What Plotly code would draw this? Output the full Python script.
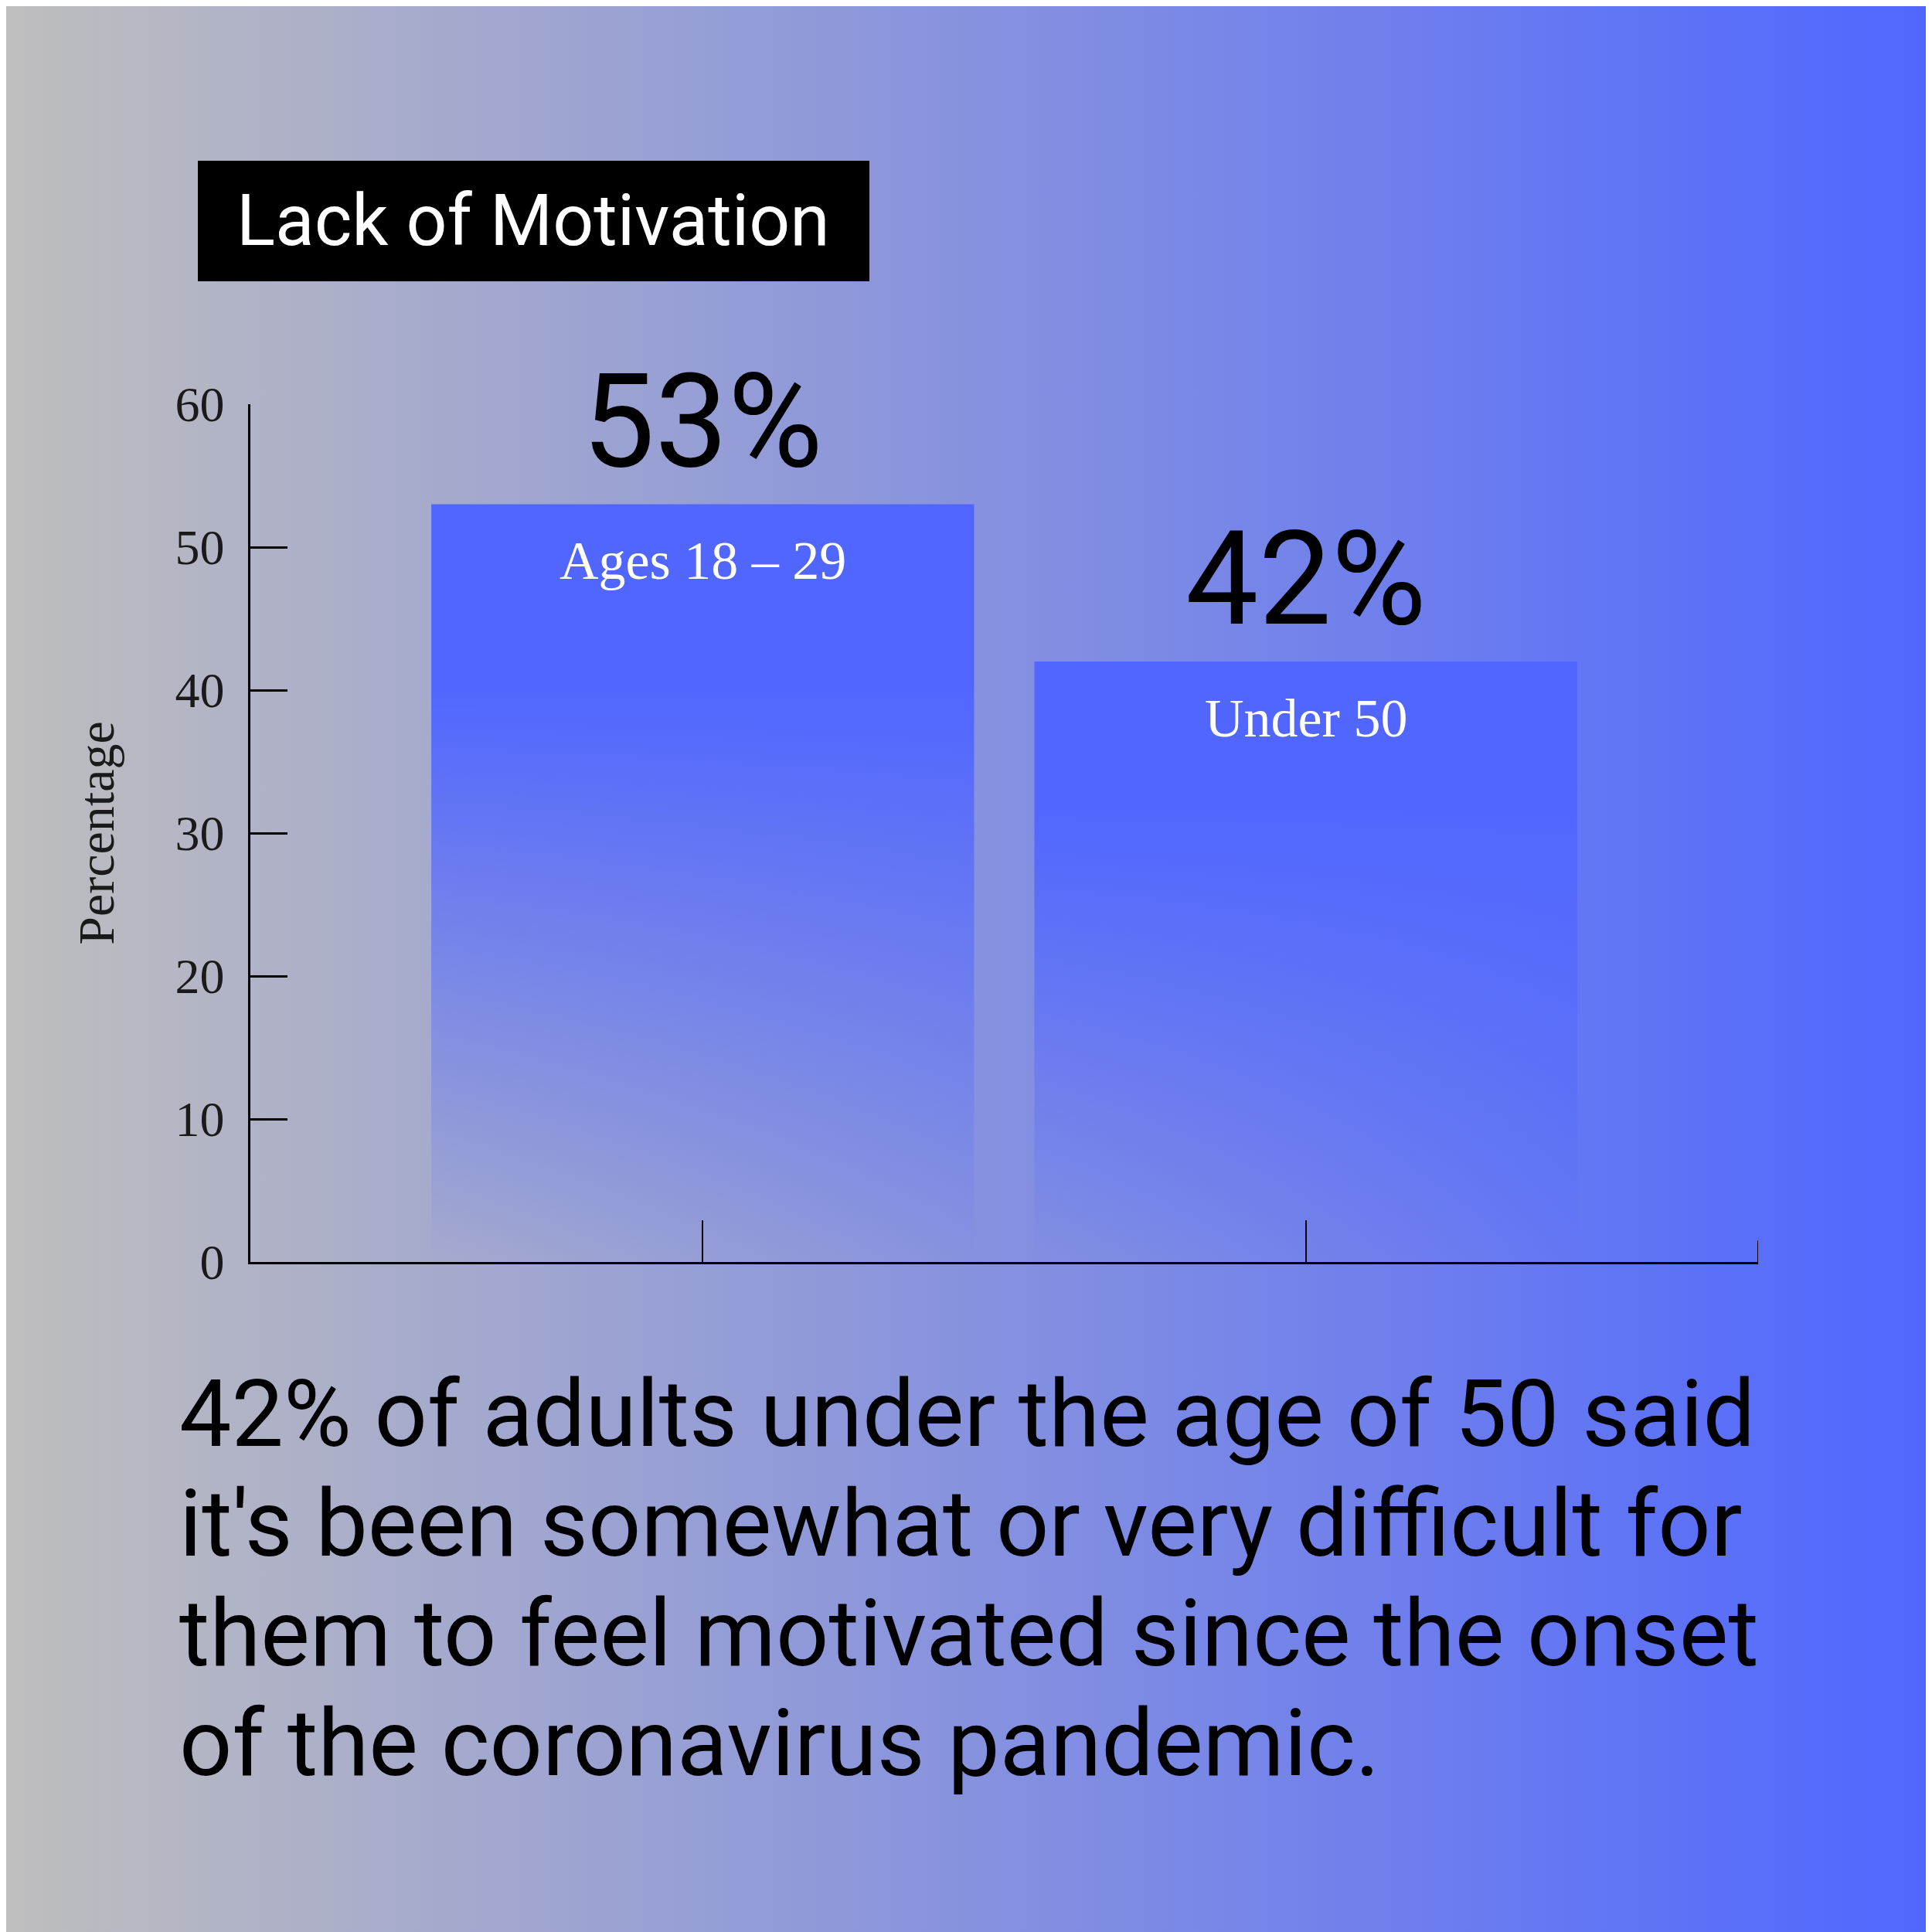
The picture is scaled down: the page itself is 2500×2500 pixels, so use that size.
import base64
import plotly.graph_objects as go

# --- chart data ---
categories = ["Ages 18 – 29", "Under 50"]
percentages = [53, 42]
value_labels = ["53%", "42%"]
y_ticks = [0, 10, 20, 30, 40, 50, 60]

title_text = "Lack of Motivation"
caption_lines = [
    "42% of adults under the age of 50 said",
    "it's been somewhat or very difficult for",
    "them to feel motivated since the onset",
    "of the coronavirus pandemic.",
]

# --- style ---
W = H = 2500
PAGE_PAD = 8  # body margin of the html page, compensate so things land where intended
BLUE = "80,102,255"
DISPLAY_FONT = "Roboto"
SERIF_FONT = "Liberation Serif"
BAR_WIDTH = 0.9
bar_fade = [
    [0.0, f"rgba({BLUE},0.0)"],
    [0.76, f"rgba({BLUE},1.0)"],
    [1.0, f"rgba({BLUE},1.0)"],
]


def px_x(v):
    return (v - PAGE_PAD) / W


def px_y(v):
    return 1 - (v - PAGE_PAD) / H


fig = go.Figure()

# bars as filled polygons so they can take a vertical fade
for i, val in enumerate(percentages):
    half = BAR_WIDTH / 2
    fig.add_trace(go.Scatter(
        x=[i - half, i + half, i + half, i - half, i - half],
        y=[0, 0, val, val, 0],
        mode="lines",
        line=dict(width=0),
        fill="toself",
        fillgradient=dict(type="vertical", colorscale=bar_fade),
        hoverinfo="skip",
        showlegend=False,
    ))

annotations = []
for i, (cat, val, lab) in enumerate(zip(categories, percentages, value_labels)):
    annotations.append(dict(
        x=i, y=val, xref="x", yref="y", text=lab, showarrow=False,
        yanchor="bottom", yshift=6,
        font=dict(family=DISPLAY_FONT, size=168, color="black"),
    ))
    annotations.append(dict(
        x=i, y=val, xref="x", yref="y", text=cat, showarrow=False,
        yanchor="top", yshift=-33,
        font=dict(family=SERIF_FONT, size=70, color="white"),
    ))

# title over a black box
annotations.append(dict(
    x=px_x(690), y=px_y(286), xref="paper", yref="paper", text=title_text,
    showarrow=False, xanchor="center", yanchor="middle",
    font=dict(family=DISPLAY_FONT, size=93, color="white"),
))

# caption under the chart
for k, line in enumerate(caption_lines):
    annotations.append(dict(
        x=px_x(230), y=px_y(1830 + 142 * k), xref="paper", yref="paper",
        text=line, showarrow=False, xanchor="left", yanchor="middle",
        font=dict(family=DISPLAY_FONT, size=120, color="black"),
    ))

svg = (
    '<svg xmlns="http://www.w3.org/2000/svg" width="100" height="100" '
    'viewBox="0 0 100 100" preserveAspectRatio="none">'
    '<defs><linearGradient id="g" x1="0" y1="0" x2="1" y2="0">'
    '<stop offset="0" stop-color="#bebebe"/>'
    '<stop offset="1" stop-color="#4f66ff"/>'
    '</linearGradient></defs>'
    '<rect width="100" height="100" fill="url(#g)"/></svg>'
)
bg_src = "data:image/svg+xml;base64," + base64.b64encode(svg.encode()).decode()

fig.update_layout(
    width=W, height=H,
    margin=dict(l=0, r=0, t=0, b=0, pad=0),
    paper_bgcolor="#8c95dc",
    plot_bgcolor="rgba(0,0,0,0)",
    images=[dict(source=bg_src, xref="paper", yref="paper", x=0, y=1,
                 sizex=1, sizey=1, sizing="stretch", layer="below")],
    shapes=[
        dict(type="rect", xref="paper", yref="paper",
             x0=px_x(256), x1=px_x(1125), y0=px_y(364), y1=px_y(208),
             fillcolor="black", line=dict(width=0)),
        # short tick closing the x axis
        dict(type="line", xref="x", yref="y domain", x0=1.75, x1=1.75,
             y0=0, y1=0.025, line=dict(color="black", width=2)),
    ],
    annotations=annotations,
    xaxis=dict(
        domain=[px_x(324), px_x(2275)], range=[-0.75, 1.75], automargin=False,
        showline=True, linecolor="black", linewidth=3,
        ticks="inside", tickvals=[0, 1], ticklen=54, tickwidth=2, tickcolor="black",
        showticklabels=False, showgrid=False, zeroline=False,
    ),
    yaxis=dict(
        domain=[px_y(1633), px_y(523)], range=[0, 60], automargin=False,
        showline=True, linecolor="black", linewidth=2.5,
        ticks="inside", tickvals=y_ticks, ticklen=48, tickwidth=2.5, tickcolor="black",
        tickfont=dict(family=SERIF_FONT, size=64, color="#1a1a1a"),
        ticklabelstandoff=18,
        showgrid=False, zeroline=False,
        title=dict(text="Percentage", standoff=58,
                   font=dict(family=SERIF_FONT, size=66, color="#1a1a1a")),
    ),
)

fig.write_html("out.html")
